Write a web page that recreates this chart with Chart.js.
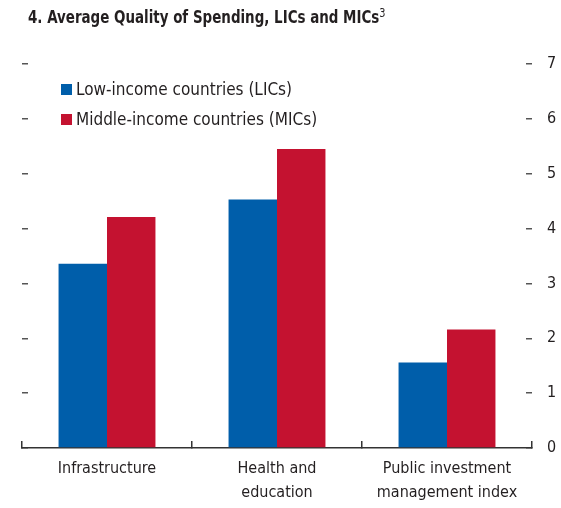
<!DOCTYPE html>
<html>
<head>
<meta charset="utf-8">
<script src="https://cdn.jsdelivr.net/npm/chart.js@4"></script>
<style>
  body { margin: 0; background: #fff; }
  #wrap { position: relative; width: 561px; height: 508px; }
  #title {
    position: absolute; left: 28px; top: 6px;
    font: bold 18px 'Liberation Sans Narrow', 'DejaVu Sans Condensed', sans-serif;
    color: #231f20; white-space: nowrap;
    transform: scaleX(0.83); transform-origin: left top;
  }
  #title sup { font-weight: normal; font-size: 13px; vertical-align: 6px; line-height: 0; }
  #legend {
    position: absolute; left: 61px; top: 74px;
    font: 17px 'Liberation Sans Narrow', 'DejaVu Sans Condensed', sans-serif;
    color: #231f20;
  }
  #legend div { height: 30px; display: flex; align-items: center; }
  #legend span.box { display: inline-block; width: 11px; height: 11px; margin-right: 4px; }
</style>
</head>
<body>
<div id="wrap">
  <canvas id="chart" width="561" height="508"></canvas>
  <div id="title">4. Average Quality of Spending, LICs and MICs<sup>3</sup></div>
  <div id="legend"></div>
</div>
<script>
const categories = [
    'Infrastructure',
    ['Health and', 'education'],
    ['Public investment', 'management index']
];
const licValues = [3.36, 4.53, 1.56];
const micValues = [4.21, 5.45, 2.16];
const yTicks = [0, 1, 2, 3, 4, 5, 6, 7];

const seriesNames = ['Low-income countries (LICs)', 'Middle-income countries (MICs)'];
const seriesColors = ['#005eaa', '#c41230'];

Chart.defaults.font.family = "'Liberation Sans Narrow', 'DejaVu Sans Condensed', sans-serif";
Chart.defaults.font.size = 16;
Chart.defaults.color = '#231f20';

const dashGrid = {
    drawOnChartArea: false,
    drawTicks: true,
    tickLength: -6,
    color: '#555',
    lineWidth: 1.5
};

const ctx = document.getElementById('chart').getContext('2d');
new Chart(ctx, {
    type: 'bar',
    data: {
        labels: categories,
        datasets: [
            { label: seriesNames[0], data: licValues, backgroundColor: seriesColors[0], yAxisID: 'y' },
            { label: seriesNames[1], data: micValues, backgroundColor: seriesColors[1], yAxisID: 'y' }
        ]
    },
    options: {
        responsive: false,
        animation: false,
        layout: { padding: { top: 64, left: 0, right: 0, bottom: 0 } },
        datasets: {
            bar: { categoryPercentage: 0.57, barPercentage: 1.0, borderWidth: 0 }
        },
        plugins: {
            legend: { display: false },
            tooltip: { enabled: false }
        },
        scales: {
            x: {
                position: 'bottom',
                grid: {
                    offset: true,
                    drawOnChartArea: false,
                    tickLength: -7,
                    color: '#333',
                    lineWidth: 1.5
                },
                border: { display: true, color: '#333', width: 1.5 },
                ticks: {
                    padding: 15,
                    maxRotation: 0,
                    autoSkip: false,
                    font: { size: 16, lineHeight: 1.55 }
                },
                afterFit: (scale) => { scale.height = 60; }
            },
            y: {
                position: 'right',
                min: 0,
                max: 7,
                afterBuildTicks: (scale) => { scale.ticks = yTicks.map(v => ({ value: v })); },
                grid: dashGrid,
                border: { display: false },
                ticks: { padding: 21, font: { size: 16 } },
                afterFit: (scale) => { scale.width = 29; }
            },
            yL: {
                position: 'left',
                min: 0,
                max: 7,
                afterBuildTicks: (scale) => { scale.ticks = yTicks.map(v => ({ value: v })); },
                grid: dashGrid,
                border: { display: false },
                ticks: { display: false },
                afterFit: (scale) => { scale.width = 22; }
            }
        }
    }
});

const legendEl = document.getElementById('legend');
seriesNames.forEach((name, i) => {
    const row = document.createElement('div');
    row.innerHTML = '<span class="box" style="background:' + seriesColors[i] + '"></span>' + name;
    legendEl.appendChild(row);
});
</script>
</body>
</html>
